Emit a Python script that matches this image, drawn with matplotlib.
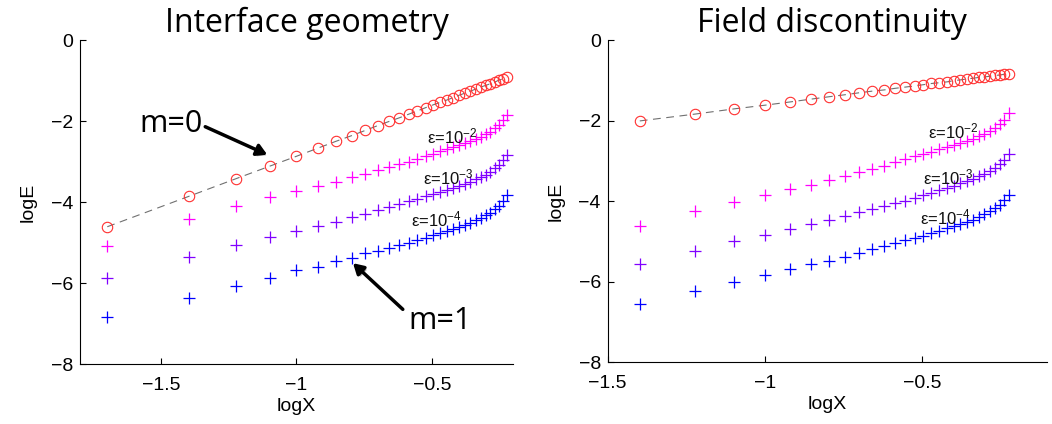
import numpy as np
import matplotlib
matplotlib.use("Agg")
from matplotlib import pyplot as plt
from matplotlib import patheffects as pe

# log10 of the mesh size, k = 1..30
logx_left = [-1.699, -1.398, -1.222, -1.097, -1.000, -0.921, -0.854, -0.796, -0.745, -0.699,
             -0.658, -0.620, -0.585, -0.553, -0.523, -0.495, -0.469, -0.444, -0.420, -0.398,
             -0.377, -0.357, -0.337, -0.319, -0.301, -0.284, -0.268, -0.252, -0.237, -0.222]
logx_right = logx_left[1:]

# Interface geometry
geo_m0 = [-4.61, -3.86, -3.42, -3.11, -2.87, -2.67, -2.50, -2.36, -2.23, -2.11,
          -2.01, -1.92, -1.83, -1.75, -1.67, -1.60, -1.54, -1.48, -1.42, -1.36,
          -1.31, -1.26, -1.21, -1.16, -1.12, -1.08, -1.04, -0.99, -0.96, -0.92]
geo_e2 = [-5.09, -4.42, -4.09, -3.88, -3.72, -3.60, -3.50, -3.38, -3.31, -3.22,
          -3.14, -3.06, -3.00, -2.93, -2.87, -2.82, -2.75, -2.70, -2.65, -2.60,
          -2.55, -2.50, -2.45, -2.39, -2.33, -2.26, -2.18, -2.09, -1.98, -1.84]
geo_e3 = [-5.87, -5.35, -5.07, -4.87, -4.72, -4.60, -4.49, -4.37, -4.29, -4.20,
          -4.13, -4.05, -3.98, -3.92, -3.86, -3.80, -3.75, -3.70, -3.65, -3.60,
          -3.55, -3.50, -3.44, -3.38, -3.32, -3.25, -3.17, -3.08, -2.97, -2.83]
geo_e4 = [-6.84, -6.36, -6.07, -5.87, -5.69, -5.60, -5.46, -5.39, -5.27, -5.21,
          -5.14, -5.07, -5.01, -4.94, -4.88, -4.82, -4.76, -4.71, -4.66, -4.61,
          -4.56, -4.51, -4.45, -4.39, -4.33, -4.26, -4.18, -4.09, -3.98, -3.83]

# Field discontinuity
fld_m0 = [-2.01, -1.84, -1.71, -1.62, -1.54, -1.47, -1.41, -1.36, -1.31,
          -1.27, -1.24, -1.20, -1.17, -1.14, -1.11, -1.08, -1.06, -1.04, -1.01,
          -0.99, -0.97, -0.95, -0.93, -0.92, -0.90, -0.88, -0.87, -0.85, -0.84]
fld_e2 = [-4.61, -4.25, -4.02, -3.85, -3.71, -3.59, -3.47, -3.37, -3.28,
          -3.20, -3.13, -3.04, -2.96, -2.89, -2.84, -2.77, -2.71, -2.66, -2.61,
          -2.56, -2.51, -2.45, -2.39, -2.33, -2.26, -2.18, -2.09, -1.98, -1.82]
fld_e3 = [-5.56, -5.24, -5.00, -4.84, -4.70, -4.57, -4.48, -4.37, -4.28,
          -4.20, -4.12, -4.05, -3.99, -3.93, -3.85, -3.79, -3.73, -3.67, -3.62,
          -3.56, -3.51, -3.45, -3.39, -3.33, -3.26, -3.18, -3.09, -2.98, -2.83]
fld_e4 = [-6.56, -6.23, -6.01, -5.85, -5.69, -5.56, -5.48, -5.38, -5.28,
          -5.19, -5.13, -5.04, -4.98, -4.92, -4.86, -4.80, -4.74, -4.68, -4.63,
          -4.57, -4.52, -4.46, -4.40, -4.33, -4.26, -4.18, -4.09, -3.98, -3.84]

eps_labels = ['\u03b5=10$^{-2}$', '\u03b5=10$^{-3}$', '\u03b5=10$^{-4}$']
colours = ['#ff00ff', '#8000ff', '#0000ff']

plt.rcParams['font.family'] = ['Liberation Sans', 'DejaVu Sans']
plt.rcParams['mathtext.fontset'] = 'custom'
plt.rcParams['mathtext.rm'] = 'Liberation Sans'
plt.rcParams['mathtext.it'] = 'Liberation Sans'
plt.rcParams['mathtext.default'] = 'regular'

fig = plt.figure(figsize=(10.52, 4.24), dpi=100)
ax1 = fig.add_axes([0.076, 0.1415, 0.4116, 0.764])
ax2 = fig.add_axes([0.5777, 0.1462, 0.4179, 0.7594])


def draw(ax, x, m0, series, xlim, label_pos):
    ax.plot(x, m0, '--', color='#707070', lw=0.8, dashes=(7, 5))
    ax.plot(x, m0, 'o', mfc='none', mec='#ff3030', ms=7.5, mew=0.8)
    for s, c in zip(series, colours):
        ax.plot(x, s, '+', color=c, ms=9, mew=0.9)
    for (lx, ly), t in zip(label_pos, eps_labels):
        ax.text(lx, ly, t, fontsize=12, ha='center', va='center', color='#111111')
    ax.set_xlim(xlim)
    ax.set_ylim(-8, 0)
    ax.set_xticks([-1.5, -1, -0.5])
    ax.set_xticklabels(['\u22121.5', '\u22121', '\u22120.5'])
    ax.set_yticks([-8, -6, -4, -2, 0])
    ax.set_yticklabels(['\u22128', '\u22126', '\u22124', '\u22122', '0'])
    ax.tick_params(direction='in', length=4, labelsize=14, width=0.8)
    ax.tick_params(axis='x', pad=9)
    ax.tick_params(axis='y', pad=5)
    ax.spines['top'].set_visible(False)
    ax.spines['right'].set_visible(False)
    ax.set_xlabel('logX', fontsize=14, labelpad=3)
    ax.set_ylabel('logE', fontsize=14, labelpad=10)


draw(ax1, logx_left, geo_m0, [geo_e2, geo_e3, geo_e4], (-1.8, -0.2),
     [(-0.423, -2.39), (-0.441, -3.40), (-0.482, -4.43)])
draw(ax2, logx_right, fld_m0, [fld_e2, fld_e3, fld_e4], (-1.5, -0.1),
     [(-0.40, -2.26), (-0.416, -3.42), (-0.426, -4.42)])

title_font = ['Open Sans', 'DejaVu Sans']
fig.text(307 / 1052, 1 - 23 / 424, 'Interface geometry', fontsize=23,
         family=title_font, ha='center', va='center')
fig.text(832 / 1052, 1 - 23 / 424, 'Field discontinuity', fontsize=23,
         family=title_font, ha='center', va='center')

shadow = [pe.SimplePatchShadow(offset=(1.5, -1.5), alpha=0.3), pe.Normal()]
arrow = dict(arrowstyle='-|>,head_length=0.6,head_width=0.35', color='black',
             lw=2.5, shrinkA=0, shrinkB=0, path_effects=shadow)
ax1.annotate('', xy=(-1.108, -2.83), xytext=(-1.337, -2.14), arrowprops=arrow)
ax1.text(-1.345, -2.07, 'm=0', fontsize=22, family=title_font, ha='right', va='center')
ax1.annotate('', xy=(-0.791, -5.51), xytext=(-0.607, -6.65), arrowprops=arrow)
ax1.text(-0.588, -6.95, 'm=1', fontsize=22, family=title_font, ha='left', va='center')

fig.savefig('out.png', dpi=100)
